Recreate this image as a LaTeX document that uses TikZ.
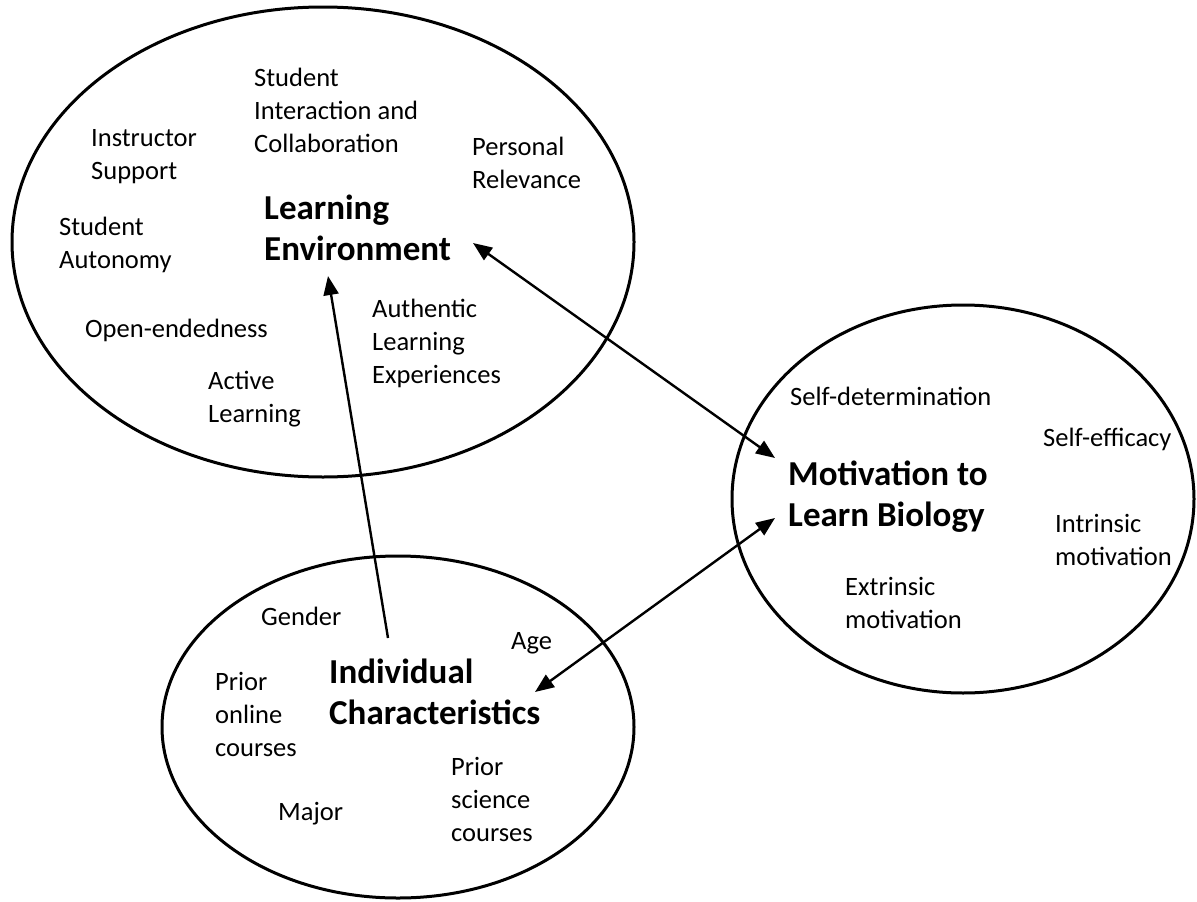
\documentclass[tikz,border=0pt]{standalone}
\usepackage{fontspec}
\setmainfont{Carlito}
\usetikzlibrary{arrows.meta}

\begin{document}
\begin{tikzpicture}[x=1pt,y=-1pt,
    item/.style={anchor=base west,align=left,inner sep=0pt,font=\fontsize{26.5}{33}\selectfont},
    title/.style={anchor=base west,align=left,inner sep=0pt,font=\fontsize{35}{41}\selectfont\bfseries},
    ring/.style={line width=3pt},
    arr/.style={line width=2.4pt,-{Triangle[length=19pt,width=15pt]}},
    darr/.style={line width=2.4pt,{Triangle[length=19pt,width=15pt]}-{Triangle[length=19pt,width=15pt]}}]
    \useasboundingbox (0,0) rectangle (1197,902);

    % Ellipses
    \draw[ring] (323,242) ellipse [x radius=311, y radius=235];
    \draw[ring] (963,499) ellipse [x radius=231, y radius=194];
    \draw[ring] (398,727) ellipse [x radius=236, y radius=171];

    % Learning environment (base = last line)
    \node[title] (env) at (264,260) {Learning\\Environment};
    \node[item] (inter) at (254,152) {Student\\Interaction and\\Collaboration};
    \node[item] (instr) at (91,179) {Instructor\\Support};
    \node[item] (pers) at (472,188) {Personal\\Relevance};
    \node[item] (auton) at (59,268) {Student\\Autonomy};
    \node[item] (open) at (85,337) {Open-endedness};
    \node[item] (active) at (208,422) {Active\\Learning};
    \node[item] (auth) at (372,383) {Authentic\\Learning\\Experiences};

    % Motivation
    \node[title] (mot) at (788,526) {Motivation to\\Learn Biology};
    \node[item] (selfdet) at (790,405) {Self-determination};
    \node[item] (selfeff) at (1043,446) {Self-efficacy};
    \node[item] (intr) at (1055,565) {Intrinsic\\motivation};
    \node[item] (extr) at (845,628) {Extrinsic\\motivation};

    % Individual characteristics
    \node[title] (ind) at (329,724) {Individual\\Characteristics};
    \node[item] (gender) at (261,625) {Gender};
    \node[item] (age) at (511,649) {Age};
    \node[item] (online) at (215,756) {Prior\\online\\courses};
    \node[item] (science) at (451,841) {Prior\\science\\courses};
    \node[item] (major) at (278,820) {Major};

    % Arrow ends
    \coordinate (indTop) at (388,638);
    \coordinate (envLow) at (328,276);
    \coordinate (envRight) at (473,243);
    \coordinate (motUp) at (775,458);
    \coordinate (motLow) at (775,518);
    \coordinate (indRight) at (535,692);

    \draw[arr] (indTop) -- (envLow);
    \draw[darr] (envRight) -- (motUp);
    \draw[darr] (indRight) -- (motLow);
\end{tikzpicture}
\end{document}
